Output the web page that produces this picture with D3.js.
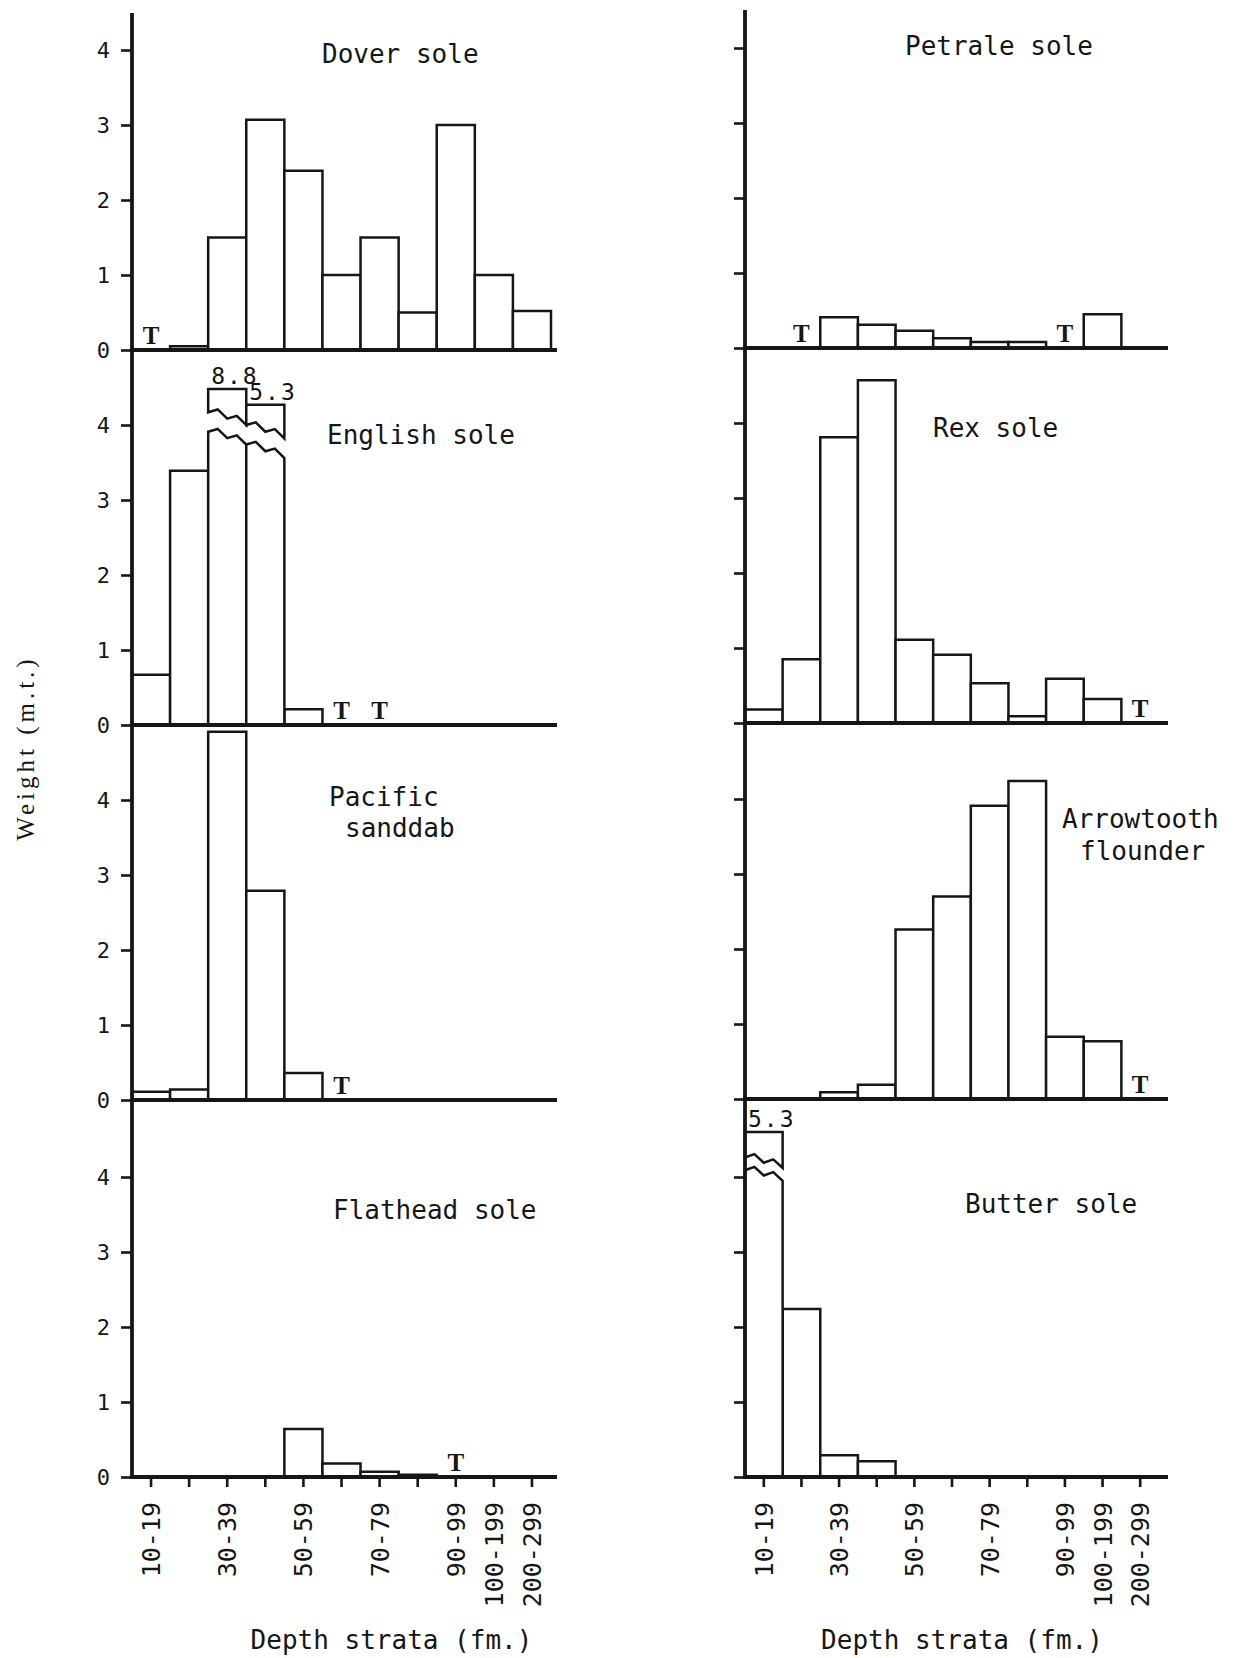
<!DOCTYPE html>
<html>
<head>
<meta charset="utf-8">
<script src="https://cdn.jsdelivr.net/npm/d3@7"></script>
<style>
  body { margin: 0; background: #fff; }
  svg { display: block; background: #fff; }
  .mono { font-family: 'DejaVu Sans Mono', monospace; fill: #161616; }
  .typed { font-family: 'Liberation Serif', 'DejaVu Serif', serif; fill: #161616; }
  .bar { fill: #fff; stroke: #161616; stroke-width: 2.5; stroke-linejoin: miter; }
  .axis-line { stroke: #161616; stroke-width: 3.8; stroke-linecap: butt; }
  .tick line { stroke: #161616; stroke-width: 2.6; }
</style>
</head>
<body>
<div id="chart"></div>
<script>
/* global d3 */

// depth strata (fm.)
const bins = ['10-19', '20-29', '30-39', '40-49', '50-59', '60-69', '70-79', '80-89', '90-99', '100-199', '200-299'];
const binLabels = ['10-19', '30-39', '50-59', '70-79', '90-99', '100-199', '200-299'];
const yTicks = [0, 1, 2, 3, 4];

// weight (m.t.) per stratum, 'T' = trace
const doverSole = ['T', 0.05, 1.5, 3.07, 2.39, 1.0, 1.5, 0.5, 3.0, 1.0, 0.52];
const englishSole = [0.67, 3.39, 8.8, 5.3, 0.21, 'T', 'T', 0, 0, 0, 0];
const pacificSanddab = [0.11, 0.14, 4.91, 2.79, 0.36, 'T', 0, 0, 0, 0, 0];
const flatheadSole = [0, 0, 0, 0, 0.64, 0.18, 0.07, 0.03, 'T', 0, 0];
const petraleSole = [0, 'T', 0.41, 0.31, 0.23, 0.13, 0.08, 0.08, 'T', 0.45, 0];
const rexSole = [0.18, 0.85, 3.81, 4.57, 1.11, 0.91, 0.53, 0.09, 0.59, 0.32, 'T'];
const arrowtoothFlounder = [0, 0, 0.09, 0.19, 2.26, 2.7, 3.91, 4.24, 0.83, 0.77, 'T'];
const butterSole = [5.3, 2.24, 0.29, 0.21, 0, 0, 0, 0, 0, 0, 0];

// bars that run off the scale: drawn up to `shown`, broken between cut values
const brokenBars = [
  { panel: 'english', bin: '30-39', shown: 4.48, cut: [3.91, 3.74], gap: 0.26 },
  { panel: 'english', bin: '40-49', shown: 4.27, cut: [3.74, 3.56], gap: 0.26 },
  { panel: 'butter', bin: '10-19', shown: 4.6, cut: [4.09, 3.95], gap: 0.17 },
];

const width = 1237;
const height = 1658;

// layout
const columns = [
  { x0: 132, x1: 551, axisTop: 13, axisEnd: 557, baselines: [350, 725, 1100, 1477], labels: true },
  { x0: 745, x1: 1159, axisTop: 10, axisEnd: 1168, baselines: [348, 723, 1099, 1477], labels: false },
];
const UNIT = 75; // px per m.t.

const panels = [
  { key: 'dover', values: doverSole, col: 0, row: 0, title: ['Dover sole'], tx: [322], ty: [63] },
  { key: 'english', values: englishSole, col: 0, row: 1, title: ['English sole'], tx: [327], ty: [444] },
  { key: 'pacific', values: pacificSanddab, col: 0, row: 2, title: ['Pacific', 'sanddab'], tx: [329, 345], ty: [806, 837] },
  { key: 'flathead', values: flatheadSole, col: 0, row: 3, title: ['Flathead sole'], tx: [333], ty: [1219] },
  { key: 'petrale', values: petraleSole, col: 1, row: 0, title: ['Petrale sole'], tx: [905], ty: [55] },
  { key: 'rex', values: rexSole, col: 1, row: 1, title: ['Rex sole'], tx: [933], ty: [437] },
  { key: 'arrowtooth', values: arrowtoothFlounder, col: 1, row: 2, title: ['Arrowtooth', 'flounder'], tx: [1062, 1080], ty: [828, 860] },
  { key: 'butter', values: butterSole, col: 1, row: 3, title: ['Butter sole'], tx: [965], ty: [1213] },
];

const svg = d3.select('#chart').append('svg')
  .attr('width', width)
  .attr('height', height);

const scaleX = columns.map(c => d3.scaleBand().domain(bins).range([c.x0, c.x1]).padding(0));

function scaleYFor(p) {
  const base = columns[p.col].baselines[p.row];
  return d3.scaleLinear().domain([0, 5]).range([base, base - 5 * UNIT]);
}

// zigzag from (xa, ya) to (xb, yb)
function zigzag(xa, ya, xb, yb) {
  const offs = [0, -6, 0, -6, 0];
  return offs.map((o, i) => {
    const t = i / (offs.length - 1);
    return [xa + (xb - xa) * t, ya + (yb - ya) * t + o];
  });
}

const $bars = svg.append('g').attr('class', 'g-bars');
const $text = svg.append('g').attr('class', 'g-text');
const $axes = svg.append('g').attr('class', 'g-axes');

panels.forEach(p => {
  const x = scaleX[p.col];
  const y = scaleYFor(p);
  const rows = bins.map((b, i) => ({ bin: b, value: p.values[i] }));

  const plain = rows.filter(d => typeof d.value === 'number' && d.value > 0
    && !brokenBars.find(br => br.panel === p.key && br.bin === d.bin));

  $bars.selectAll(null)
    .data(plain)
    .join('rect')
    .attr('class', 'bar')
    .attr('x', d => x(d.bin))
    .attr('width', x.bandwidth())
    .attr('y', d => y(d.value))
    .attr('height', d => y(0) - y(d.value));

  // broken bars
  brokenBars.filter(br => br.panel === p.key).forEach(br => {
    const xa = x(br.bin);
    const xb = xa + x.bandwidth();
    const low = zigzag(xa, y(br.cut[0]), xb, y(br.cut[1]));
    const high = zigzag(xa, y(br.cut[0] + br.gap), xb, y(br.cut[1] + br.gap));
    const lowPath = [[xa, y(0)], ...low, [xb, y(0)]];
    const highPath = [[xa, y(br.shown)], [xb, y(br.shown)], ...high.slice().reverse()];
    $bars.append('path').attr('class', 'bar').attr('d', d3.line()(lowPath));
    $bars.append('path').attr('class', 'bar').attr('d', `${d3.line()(highPath)}Z`);
    const v = rows.find(r => r.bin === br.bin).value;
    $text.append('text')
      .attr('class', 'mono')
      .attr('x', xa + 3)
      .attr('y', y(br.shown) - 5)
      .attr('font-size', 23)
      .attr('letter-spacing', 2)
      .text(v.toFixed(1));
  });

  // trace markers
  $text.selectAll(null)
    .data(rows.filter(d => d.value === 'T'))
    .join('text')
    .attr('class', 'typed')
    .attr('x', d => x(d.bin) + x.bandwidth() / 2)
    .attr('y', y(0) - 6)
    .attr('text-anchor', 'middle')
    .attr('font-size', 25)
    .attr('font-weight', 'bold')
    .text('T');

  // species name
  p.title.forEach((t, i) => {
    $text.append('text')
      .attr('class', 'mono')
      .attr('x', p.tx[i])
      .attr('y', p.ty[i])
      .attr('font-size', 26)
      .text(t);
  });

  // y ticks
  const col = columns[p.col];
  const axisY = d3.axisLeft(y)
    .tickValues(yTicks)
    .tickSize(11)
    .tickPadding(11)
    .tickFormat(col.labels ? d3.format('d') : () => '');
  const $ay = $axes.append('g')
    .attr('transform', `translate(${col.x0}, 0)`)
    .call(axisY);
  $ay.select('.domain').remove();
  $ay.selectAll('text')
    .attr('class', 'mono')
    .attr('font-size', 22)
    .attr('font-family', null);

  // baseline
  $axes.append('line')
    .attr('class', 'axis-line')
    .attr('x1', col.x0 - 2)
    .attr('x2', col.axisEnd)
    .attr('y1', y(0))
    .attr('y2', y(0));

  // depth axis on the bottom row
  if (p.row === 3) {
    const axisX = d3.axisBottom(x)
      .tickSize(10)
      .tickFormat(d => (binLabels.includes(d) ? d : ''));
    const $ax = $axes.append('g')
      .attr('transform', `translate(0, ${y(0)})`)
      .call(axisX);
    $ax.select('.domain').remove();
    $ax.selectAll('text')
      .attr('class', 'mono')
      .attr('font-size', 25)
      .attr('font-family', null)
      .attr('transform', 'rotate(-90)')
      .attr('text-anchor', 'end')
      .attr('x', -25)
      .attr('y', 0)
      .attr('dy', '0.36em');

    $text.append('text')
      .attr('class', 'mono')
      .attr('x', (col.x0 + col.x1) / 2 + (p.col === 0 ? 50 : 10))
      .attr('y', 1649)
      .attr('text-anchor', 'middle')
      .attr('font-size', 26)
      .text('Depth strata (fm.)');
  }
});

// vertical axes
columns.forEach(c => {
  $axes.append('line')
    .attr('class', 'axis-line')
    .attr('x1', c.x0)
    .attr('x2', c.x0)
    .attr('y1', c.axisTop)
    .attr('y2', c.baselines[3] + 2);
});

svg.append('text')
  .attr('class', 'typed')
  .attr('transform', 'translate(25, 748) rotate(-90)')
  .attr('text-anchor', 'middle')
  .attr('dy', '0.35em')
  .attr('font-size', 25)
  .attr('letter-spacing', 4)
  .text('Weight (m.t.)');
</script>
</body>
</html>
